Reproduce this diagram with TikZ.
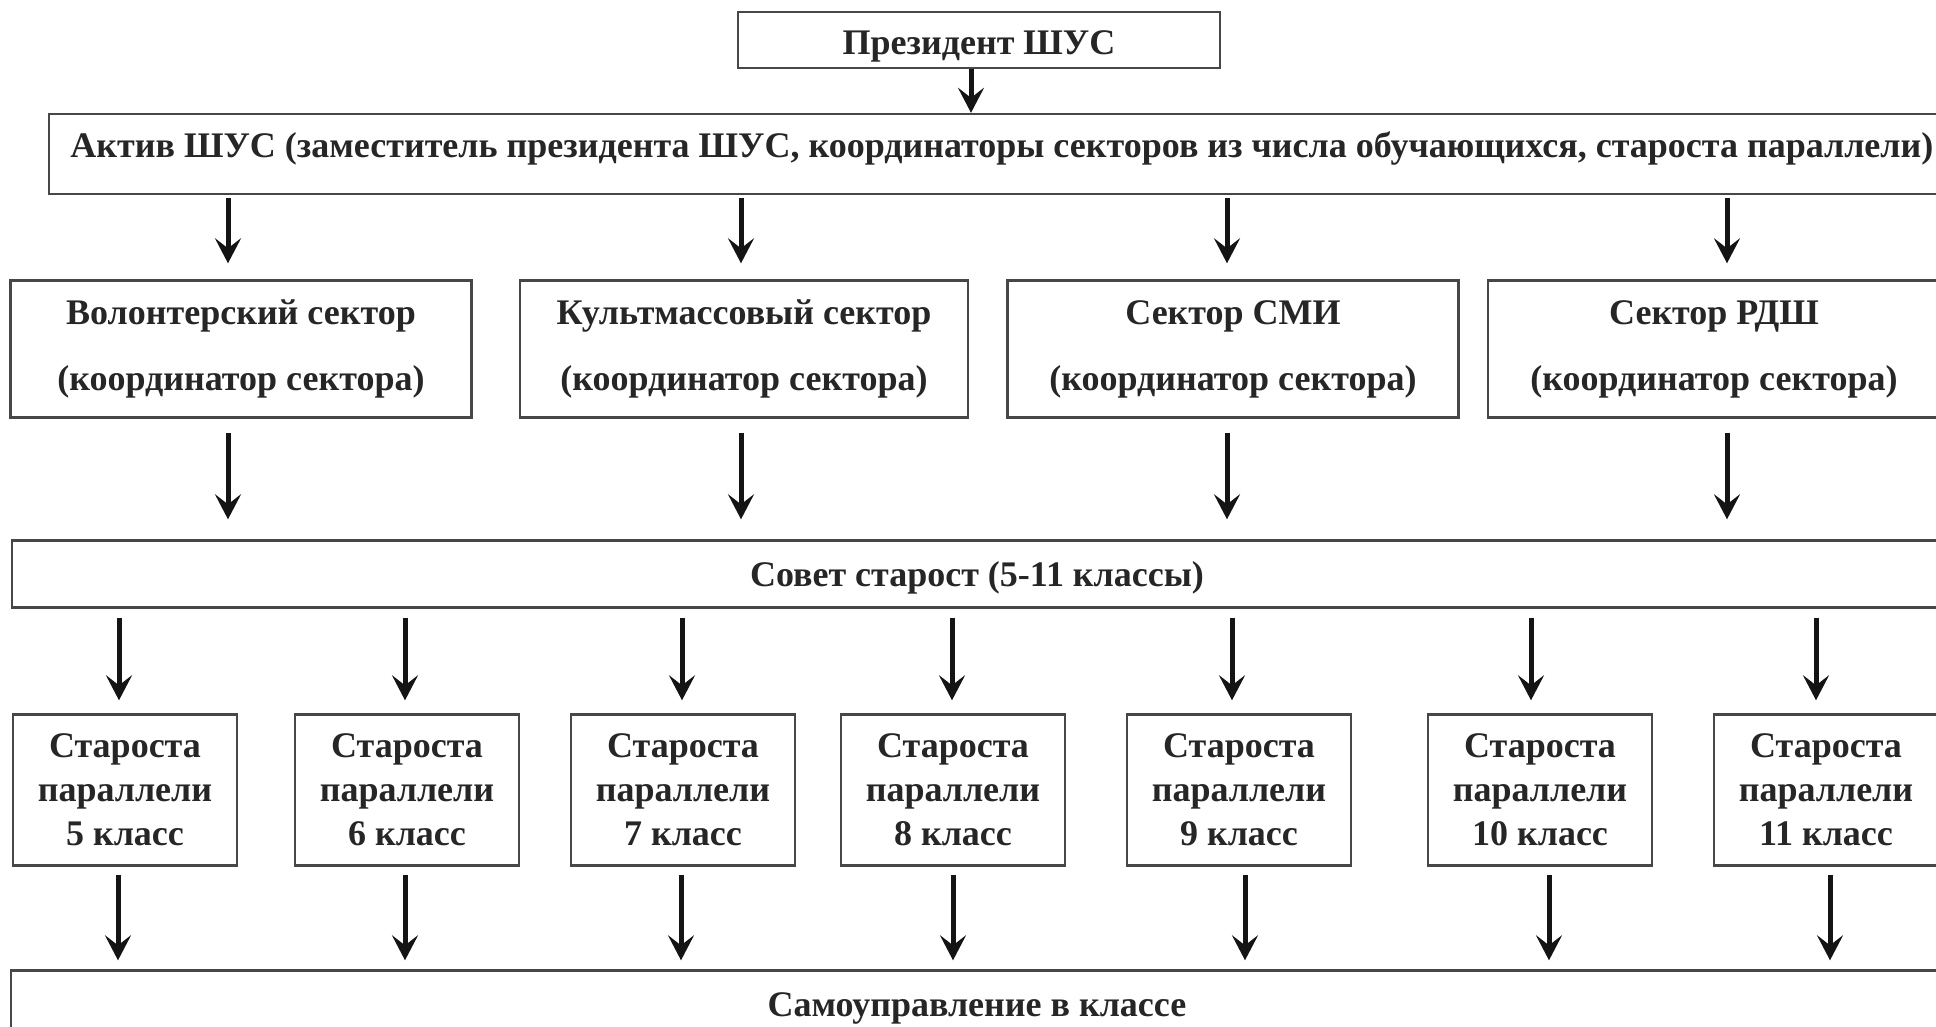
\documentclass[tikz,border=0pt]{standalone}
\usepackage{fontspec}
\setmainfont{Liberation Serif}
\usetikzlibrary{arrows.meta}
\usetikzlibrary{calc,positioning}

\begin{document}
\begin{tikzpicture}[>={Stealth[length=25pt, width=26pt, inset=10pt]}, x=1pt, y=-1pt,
    box/.style={draw=black!72, line width=2.4pt, fill=white, inner sep=0pt, align=center,
        text=black!85, font=\fontsize{36}{44}\selectfont\bfseries},
    link/.style={->, line width=5pt, black!92}]

    \useasboundingbox (0,0) rectangle (1936,1026);
    \clip (0,0) rectangle (1936,1026);

    \node[box, minimum width=482, minimum height=56, text height=36pt, text depth=7pt] (pres) at (979,40) {Президент ШУС};
    \node[box, minimum width=1906, minimum height=80, text depth=18pt] (aktiv) at (1002,154)
        {Актив ШУС (заместитель президента ШУС, координаторы секторов из числа обучающихся, староста параллели)};

    % sectors
    \foreach \name/\x/\w/\txt in {s1/241/461/Волонтерский сектор, s2/744/448/Культмассовый сектор,
            s3/1233/451/Сектор СМИ, s4/1714/452/Сектор РДШ}
        \node[box, minimum width=\w, minimum height=137] (\name) at (\x,349)
            {\txt\\[22pt](координатор сектора)};

    \node[box, minimum width=1930, minimum height=67, text height=33pt, text depth=8pt] (sovet) at (977,574)
        {Совет старост (5-11 классы)};

    % class heads
    \foreach \n/\x in {5/125, 6/407, 7/683, 8/953, 9/1239, 10/1540, 11/1826}
        \node[box, minimum width=224, minimum height=151] (st\n) at (\x,790)
            {Староста\\параллели\\\n{} класс};

    \node[box, minimum width=1932, minimum height=65, text height=35pt, text depth=8pt] (samo) at (977,1003)
        {Самоуправление в классе};

    \draw[link] (pres.south -| 971,0) -- (aktiv.north -| 971,0);
    \foreach \s/\dx in {s1/-13, s2/-3, s3/-6, s4/13} {
        \draw[link, shorten <=3, shorten >=16] ([xshift=\dx]aktiv.south -| \s) -- ([xshift=\dx]\s.north);
        \draw[link, shorten <=14, shorten >=20] ([xshift=\dx]\s.south) -- ([xshift=\dx]\s.south |- sovet.north);
    }
    \foreach \n/\da/\db in {5/-6/-7, 6/-2/-2, 7/-1/-2, 8/-1/0, 9/-7/6, 10/-9/9, 11/-10/4} {
        \draw[link, shorten <=9, shorten >=13] ([xshift=\da]sovet.south -| st\n) -- ([xshift=\da]st\n.north);
        \draw[link, shorten <=8, shorten >=9] ([xshift=\db]st\n.south) -- ([xshift=\db]st\n.south |- samo.north);
    }

\end{tikzpicture}
\end{document}
